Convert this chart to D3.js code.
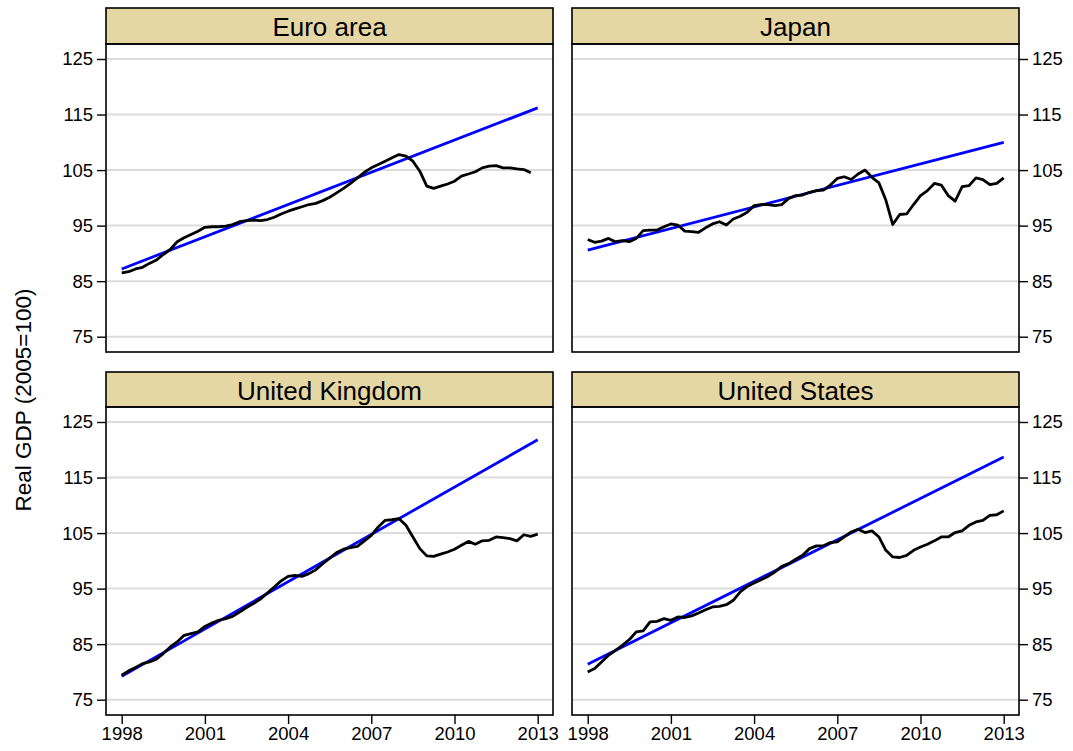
<!DOCTYPE html>
<html>
<head>
<meta charset="utf-8">
<script src="https://cdn.jsdelivr.net/npm/d3@7/dist/d3.min.js"></script>
<style>
  html, body { margin: 0; padding: 0; background: #ffffff; }
  svg { display: block; font-family: "Liberation Sans", Arial, sans-serif; }
</style>
</head>
<body>
<svg id="chart" width="1073" height="751"></svg>
<script>
// ---------------- DATA ----------------
const countries = ["Euro area", "Japan", "United Kingdom", "United States"];
const startYear = 1998;               // first quarter: 1998Q1
const xTicks = [1998, 2001, 2004, 2007, 2010, 2013];
const yTicks = [75, 85, 95, 105, 115, 125];

// Quarterly real GDP (2005=100), starting 1998Q1
const euroArea = [86.5, 86.7, 87.2, 87.5, 88.2, 88.8, 89.8, 90.7, 92.1, 92.8,
  93.4, 94.0, 94.7, 94.8, 94.8, 94.9, 95.2, 95.7, 95.9, 96.0,
  95.9, 96.1, 96.5, 97.1, 97.6, 98.0, 98.4, 98.8, 99.0, 99.5,
  100.1, 100.9, 101.7, 102.6, 103.6, 104.6, 105.4, 106.0, 106.6, 107.2,
  107.8, 107.5, 106.6, 104.8, 102.1, 101.7, 102.1, 102.5, 103.0, 103.9,
  104.3, 104.7, 105.4, 105.7, 105.8, 105.4, 105.4, 105.2, 105.1, 104.5];
const japan = [92.5, 92.0, 92.2, 92.7, 92.1, 92.3, 92.1, 92.7, 94.1, 94.2,
  94.2, 94.8, 95.3, 95.1, 94.0, 93.9, 93.8, 94.6, 95.3, 95.7,
  95.1, 96.2, 96.7, 97.4, 98.6, 98.8, 98.8, 98.6, 98.8, 99.9,
  100.4, 100.5, 101.0, 101.3, 101.4, 102.3, 103.5, 103.8, 103.3, 104.3,
  105.0, 103.7, 102.7, 99.6, 95.2, 97.0, 97.1, 98.8, 100.4, 101.3,
  102.6, 102.3, 100.4, 99.4, 102.0, 102.2, 103.6, 103.3, 102.4, 102.6, 103.6];
const unitedKingdom = [79.4, 80.2, 80.8, 81.5, 81.8, 82.3, 83.3, 84.5, 85.4, 86.6,
  86.9, 87.2, 88.2, 88.8, 89.3, 89.6, 90.0, 90.8, 91.6, 92.3,
  93.1, 94.2, 95.3, 96.4, 97.2, 97.4, 97.2, 97.7, 98.4, 99.5,
  100.5, 101.5, 102.1, 102.4, 102.6, 103.6, 104.6, 106.1, 107.3, 107.4,
  107.6, 106.4, 104.3, 102.2, 100.9, 100.8, 101.2, 101.6, 102.1, 102.8,
  103.5, 103.0, 103.6, 103.7, 104.3, 104.2, 104.0, 103.6, 104.7, 104.4, 104.8];
const unitedStates = [80.0, 80.6, 81.8, 83.0, 83.9, 84.8, 85.8, 87.2, 87.4, 89.0,
  89.1, 89.6, 89.3, 89.9, 89.8, 90.1, 90.6, 91.2, 91.7, 91.8,
  92.1, 92.9, 94.4, 95.4, 96.0, 96.6, 97.2, 98.0, 99.0, 99.5,
  100.3, 101.0, 102.2, 102.7, 102.7, 103.3, 103.4, 104.3, 105.2, 105.7,
  105.1, 105.4, 104.3, 101.9, 100.7, 100.6, 101.0, 101.9, 102.5, 103.0,
  103.6, 104.3, 104.3, 105.1, 105.4, 106.4, 107.0, 107.3, 108.2, 108.3, 109.0];

// Linear pre-crisis trend: value at 1998 and at 2013
const trendStart = [87.2, 90.6, 79.2, 81.4];
const trendEnd = [116.2, 110.0, 121.8, 118.7];

const seriesList = [euroArea, japan, unitedKingdom, unitedStates];

// ---------------- LAYOUT ----------------
const svg = d3.select("#chart");
const colX = [{x0: 106, x1: 553}, {x0: 572, x1: 1019}];
const rowY = [{h0: 8, h1: 44, p1: 352}, {h0: 372, h1: 407, p1: 715}];

const headerFill = "#e5d7a3";
const gridColor = "#dcdcdc";

countries.forEach((name, k) => {
  const col = k % 2, row = Math.floor(k / 2);
  const {x0, x1} = colX[col];
  const {h0, h1, p1} = rowY[row];

  const x = d3.scaleLinear().domain([1998, 2013]).range([x0 + 15.7, x1 - 15.3]);
  const y = d3.scaleLinear().domain([75, 125]).range([p1 - 15.3, h1 + 15]);

  const g = svg.append("g");

  // gridlines
  g.selectAll("line.grid").data(yTicks).enter().append("line")
    .attr("x1", x0).attr("x2", x1)
    .attr("y1", d => y(d)).attr("y2", d => y(d))
    .attr("stroke", gridColor).attr("stroke-width", 2);

  // trend line
  const trend = [{t: 1998, v: trendStart[k]}, {t: 2013, v: trendEnd[k]}];
  g.append("path").datum(trend)
    .attr("d", d3.line().x(d => x(d.t)).y(d => y(d.v)))
    .attr("fill", "none").attr("stroke", "#0000ff").attr("stroke-width", 2.8);

  // actual GDP
  const data = seriesList[k].map((v, i) => ({t: startYear + i / 4, v}));
  g.append("path").datum(data)
    .attr("d", d3.line().x(d => x(d.t)).y(d => y(d.v)))
    .attr("fill", "none").attr("stroke", "#000000").attr("stroke-width", 2.8)
    .attr("stroke-linejoin", "round");

  // header
  g.append("rect").attr("x", x0).attr("y", h0).attr("width", x1 - x0).attr("height", h1 - h0)
    .attr("fill", headerFill).attr("stroke", "#000").attr("stroke-width", 1.6);
  g.append("text").attr("x", (x0 + x1) / 2).attr("y", (h0 + h1) / 2 + 1)
    .attr("text-anchor", "middle").attr("dominant-baseline", "central")
    .attr("font-size", 26).attr("fill", "#000").text(name);

  // panel border
  g.append("rect").attr("x", x0).attr("y", h1).attr("width", x1 - x0).attr("height", p1 - h1)
    .attr("fill", "none").attr("stroke", "#000").attr("stroke-width", 1.6);

  // y axis
  const yAxis = (col === 0 ? d3.axisLeft(y) : d3.axisRight(y))
    .tickValues(yTicks).tickSize(9).tickPadding(4).tickSizeOuter(0);
  const ya = g.append("g").attr("transform", `translate(${col === 0 ? x0 : x1},0)`).call(yAxis);
  ya.select(".domain").remove();
  ya.selectAll(".tick line").attr("stroke", "#000").attr("stroke-width", 1.4);
  ya.selectAll(".tick text").attr("font-size", 18.5).attr("fill", "#000")
    .attr("font-family", "Liberation Sans, Arial, sans-serif");

  // x axis on bottom row
  if (row === 1) {
    const xAxis = d3.axisBottom(x).tickValues(xTicks).tickFormat(d3.format("d"))
      .tickSize(9).tickPadding(3).tickSizeOuter(0);
    const xa = g.append("g").attr("transform", `translate(0,${p1})`).call(xAxis);
    xa.select(".domain").remove();
    xa.selectAll(".tick line").attr("stroke", "#000").attr("stroke-width", 1.4);
    xa.selectAll(".tick text").attr("font-size", 18.5).attr("fill", "#000")
      .attr("font-family", "Liberation Sans, Arial, sans-serif");
  }
});

// y axis title
svg.append("text")
  .attr("transform", "translate(23,400) rotate(-90)")
  .attr("text-anchor", "middle").attr("dominant-baseline", "central")
  .attr("font-size", 22.5).attr("fill", "#000")
  .text("Real GDP (2005=100)");
</script>
</body>
</html>
